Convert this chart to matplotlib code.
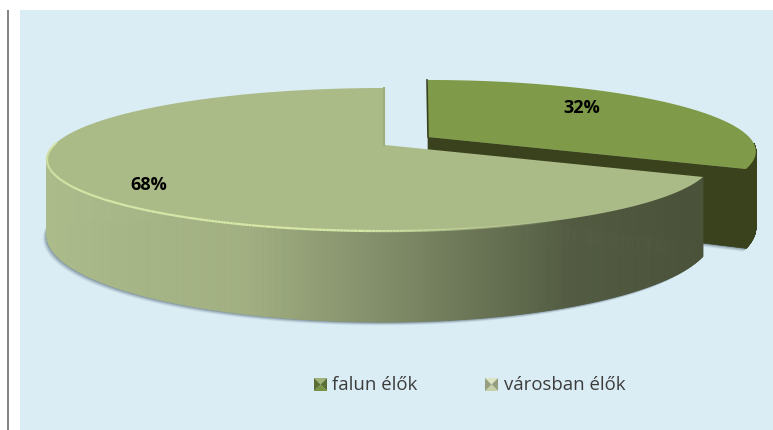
import numpy as np
import matplotlib
matplotlib.use('Agg')
import matplotlib.pyplot as plt
from matplotlib.colors import LinearSegmentedColormap
from matplotlib.patches import Polygon, Rectangle

labels = ['falun élők', 'városban élők']
shares = [32, 68]
shareText = ['32%', '68%']

topColors = ['#7f9a48', '#abbb88']
sideDark = '#39411d'
bgColor = '#dbedf4'

# pie geometry in pixels, a circle seen through a simple perspective
radiusX = 331
radiusY = 68.6
persp = 0.203
depth = 72.5
rightScale = 0.97

def project(apex, theta):
	# theta in degrees clockwise from 12 o'clock
	t = np.radians(theta)
	u = np.sin(t)
	v = -np.cos(t)
	w = 1 - persp * v
	scale = np.where(u > 0, rightScale, 1.0)
	return apex[0] + radiusX * scale * u / w, apex[1] + radiusY * v / w, depth / w

def facePoints(apex, start, end, n = 200):
	xs, ys, ds = project(apex, np.linspace(start, end, n))
	return xs, ys, ds

def drawShadow(ax, apex, start, end, dx, dy):
	xs, ys, ds = facePoints(apex, start, end)
	pts = np.column_stack([xs + dx, ys + ds + dy])
	pts = np.vstack([pts, [apex[0] + dx, apex[1] + depth + dy]])
	for grow, alpha in [(7, 0.06), (6, 0.08), (5, 0.1), (4, 0.12), (3, 0.16), (2, 0.2), (1, 0.25)]:
		ax.add_patch(Polygon(pts + [-grow * 0.6, grow * 0.5], closed = True, fc = '#4f6478', ec = 'none', alpha = alpha, zorder = 2))

def drawSide(ax, apex, start, end, colorAt):
	xs, ys, ds = facePoints(apex, start, end, 400)
	for i in range(len(xs) - 1):
		quad = [(xs[i], ys[i]), (xs[i + 1], ys[i + 1]), (xs[i + 1], ys[i + 1] + ds[i + 1]), (xs[i], ys[i] + ds[i])]
		ax.add_patch(Polygon(quad, closed = True, fc = colorAt(xs[i]), ec = colorAt(xs[i]), lw = 0.6, zorder = 3))

def drawMarker(ax, x, y, size, baseColor):
	base = np.array(matplotlib.colors.to_rgb(baseColor))
	cx, cy = x + size / 2, y + size / 2
	corners = [(x, y), (x + size, y), (x + size, y + size), (x, y + size)]
	# top and bottom facets light, the two sides darker
	shades = [base * 0.75 + 0.25, base * 0.72, base * 0.95, base * 0.72]
	for i in range(4):
		tri = [corners[i], corners[(i + 1) % 4], (cx, cy)]
		ax.add_patch(Polygon(tri, closed = True, fc = tuple(shades[i]), ec = 'none', zorder = 5))

fig = plt.figure(figsize = (7.73, 4.30), dpi = 100)
ax = fig.add_axes([0, 0, 1, 1])
ax.set_xlim(0, 773)
ax.set_ylim(430, 0)
ax.axis('off')

ax.add_patch(Rectangle((20, 10), 753, 420, fc = bgColor, ec = 'none', zorder = 0))
ax.add_patch(Rectangle((7, 10), 2, 420, fc = '#858585', ec = 'none', zorder = 1))

split = 360.0 * shares[0] / sum(shares)
smallApex = (428, 137)
bigApex = (385, 145)

drawShadow(ax, smallApex, 95, split, 1, 0)
drawShadow(ax, bigApex, split, 268, 0, 0)

# small slice
xs, ys, ds = facePoints(smallApex, 0, split)
drawSide(ax, smallApex, 95, split, lambda x: sideDark)
cutFace = [smallApex, (xs[-1], ys[-1]), (xs[-1], ys[-1] + ds[-1]), (smallApex[0], smallApex[1] + depth)]
ax.add_patch(Polygon(cutFace, closed = True, fc = sideDark, ec = sideDark, lw = 0.5, zorder = 3))
ax.add_patch(Polygon(np.vstack([[smallApex], np.column_stack([xs, ys])]), closed = True, fc = topColors[0], ec = 'none', zorder = 4))
ax.plot([xs[0] - 1, smallApex[0]], [ys[0], smallApex[1]], color = sideDark, lw = 1.2, zorder = 4)

# big slice, side fades from light to dark along x
sideCmap = LinearSegmentedColormap.from_list('side', [(0, '#abbb8a'), (0.3, '#a2b082'), (0.5, '#84906b'), (0.8, '#535c42'), (1, '#4a5339')])
drawSide(ax, bigApex, split, 268, lambda x: sideCmap(np.clip((x - 47) / 655.0, 0, 1)))
xs, ys, ds = facePoints(bigApex, split, 360, 400)
ax.add_patch(Polygon(np.vstack([[bigApex], np.column_stack([xs, ys])]), closed = True, fc = topColors[1], ec = 'none', zorder = 6))
ax.plot([bigApex[0] - 1, bigApex[0] - 1], [ys[-1], bigApex[1]], color = '#9fae7e', lw = 1.5, zorder = 6)

# light rim on the front edge
rx, ry, _ = project(bigApex, np.linspace(272, 150, 250))
for i in range(len(rx) - 1):
	fade = np.clip((560 - rx[i]) / 200.0, 0, 1)
	ax.plot(rx[i:i + 2], ry[i:i + 2], color = '#d8e8a8', lw = 1.6, alpha = float(fade), zorder = 7, solid_capstyle = 'butt')

# share labels
fontList = ['Open Sans', 'DejaVu Sans']
ax.text(582, 108, shareText[0], ha = 'center', va = 'center', fontsize = 13, fontweight = 'bold', family = fontList, color = 'black', zorder = 8)
ax.text(149, 185, shareText[1], ha = 'center', va = 'center', fontsize = 13, fontweight = 'bold', family = fontList, color = 'black', zorder = 8)

# legend
markerX = [314, 485]
textX = [332, 504]
markerColors = ['#7f9a48', '#d0dbb0']
for i in range(len(labels)):
	drawMarker(ax, markerX[i], 378, 13, markerColors[i])
	ax.text(textX[i], 385, labels[i], ha = 'left', va = 'center', fontsize = 13.4, family = fontList, color = '#3c3c3c', zorder = 8)

fig.savefig('out.png', dpi = 100)
